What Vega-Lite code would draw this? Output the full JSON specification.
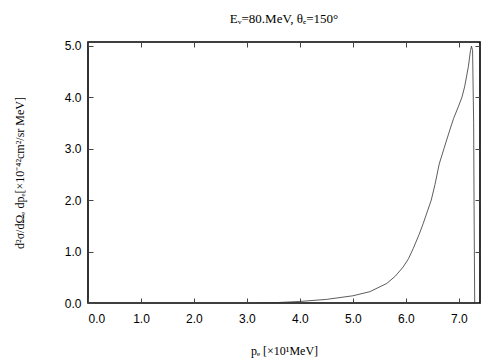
{
  "$schema": "https://vega.github.io/schema/vega-lite/v6.json",
  "width": 392,
  "height": 261,
  "autosize": "none",
  "padding": {"left": 88, "top": 42, "right": 24, "bottom": 57},
  "background": "white",
  "title": {
    "text": "Eᵥ=80.MeV, θₑ=150°",
    "font": "Liberation Serif",
    "fontSize": 13,
    "fontWeight": "normal",
    "color": "black",
    "offset": 14
  },
  "config": {
    "view": {"stroke": "black", "strokeWidth": 1.6},
    "axis": {
      "grid": false,
      "domain": false,
      "tickColor": "#444",
      "tickSize": -5,
      "labelFont": "Liberation Sans",
      "labelFontSize": 12,
      "labelColor": "black",
      "titleFont": "Liberation Serif",
      "titleFontSize": 12,
      "titleFontWeight": "normal",
      "titleColor": "black"
    }
  },
  "data": {
    "values": [
      {"p": 3.2, "s": 0},
      {"p": 3.6, "s": 0.01},
      {"p": 4.0, "s": 0.03},
      {"p": 4.5, "s": 0.07},
      {"p": 5.0, "s": 0.14},
      {"p": 5.32, "s": 0.22},
      {"p": 5.64, "s": 0.38},
      {"p": 5.8, "s": 0.52},
      {"p": 5.95, "s": 0.7},
      {"p": 6.05, "s": 0.86},
      {"p": 6.14, "s": 1.06},
      {"p": 6.25, "s": 1.33},
      {"p": 6.33, "s": 1.55},
      {"p": 6.48, "s": 2.0},
      {"p": 6.55, "s": 2.3},
      {"p": 6.63, "s": 2.7},
      {"p": 6.72, "s": 3.0},
      {"p": 6.83, "s": 3.36},
      {"p": 6.9, "s": 3.58},
      {"p": 6.99, "s": 3.81},
      {"p": 7.06, "s": 4.0},
      {"p": 7.11, "s": 4.2},
      {"p": 7.18, "s": 4.59},
      {"p": 7.22, "s": 4.9},
      {"p": 7.24, "s": 4.99},
      {"p": 7.26, "s": 4.9},
      {"p": 7.28, "s": 3.5},
      {"p": 7.29, "s": 1.5},
      {"p": 7.3, "s": 0}
    ]
  },
  "layer": [
    {
      "mark": {"type": "line", "color": "#333", "strokeWidth": 0.8, "clip": true},
      "encoding": {
        "x": {
          "field": "p", "type": "quantitative",
          "scale": {"domain": [0, 7.4], "nice": false, "zero": false},
          "axis": {"values": [0, 1, 2, 3, 4, 5, 6, 7], "format": ".1f", "labelPadding": 15, "title": "pₑ [×10¹MeV]", "titlePadding": 21}
        },
        "y": {
          "field": "s", "type": "quantitative",
          "scale": {"domain": [0, 5.07], "nice": false},
          "axis": {"values": [0, 1, 2, 3, 4, 5], "format": ".1f", "labelPadding": 12, "title": "d²σ/dΩₑ dpₑ[×10⁻⁴²cm²/sr MeV]", "titlePadding": 38}
        }
      }
    },
    {
      "mark": {"type": "line", "opacity": 0},
      "encoding": {
        "x": {
          "field": "p", "type": "quantitative",
          "scale": {"domain": [0, 7.4], "nice": false, "zero": false},
          "axis": {"orient": "top", "values": [0, 1, 2, 3, 4, 5, 6, 7], "labels": false, "title": null}
        },
        "y": {
          "field": "s", "type": "quantitative",
          "scale": {"domain": [0, 5.07], "nice": false},
          "axis": {"orient": "right", "values": [0, 1, 2, 3, 4, 5], "labels": false, "title": null}
        }
      }
    }
  ],
  "resolve": {"axis": {"x": "independent", "y": "independent"}}
}
